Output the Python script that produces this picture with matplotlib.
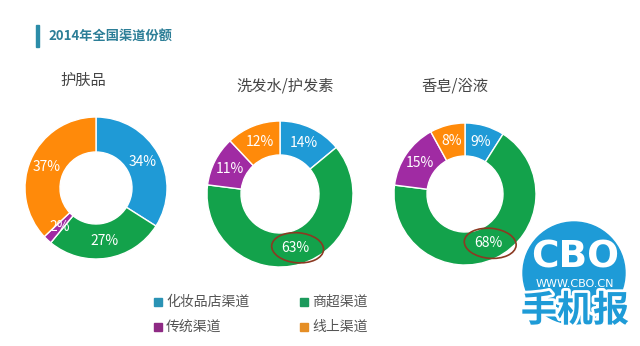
import matplotlib
matplotlib.use("Agg")
import matplotlib.pyplot as plt
import matplotlib.patheffects as pe
from matplotlib.patches import Circle, Ellipse, Rectangle
import numpy as np

plt.rcParams["font.family"] = ["Noto Sans CJK SC", "DejaVu Sans"]

title = "2014年全国渠道份额"
channels = ["化妆品店渠道", "商超渠道", "传统渠道", "线上渠道"]
categories = ["护肤品", "洗发水/护发素", "香皂/浴液"]
shares = [
    [34, 27, 2, 37],
    [14, 63, 11, 12],
    [9, 68, 15, 8],
]
highlight = [None, 1, 1]  # circled slice per donut

colors = ["#1F9AD6", "#13A24B", "#A02BA3", "#FF8A0A"]
legend_colors = ["#2A93B5", "#1C9A5C", "#8E2A84", "#E58E25"]
W, H = 640, 346

fig = plt.figure(figsize=(6.4, 3.46), dpi=100)
ax = fig.add_axes([0, 0, 1, 1])

# donut geometry (pixel coords, y from top)
centers = [(96, 188), (280, 194), (465, 194)]
radii = [71, 73, 71]
widths = [35, 34, 33]
title_pos = [(83, 80), (285, 86), (455, 86)]

for i, vals in enumerate(shares):
    cx, cy = centers[i]
    r = radii[i]
    wedges, _ = ax.pie(vals, colors=colors, startangle=90, counterclock=False,
                       radius=r, center=(cx, H - cy),
                       wedgeprops=dict(width=widths[i], edgecolor="white", linewidth=1))
    rm = r - widths[i] / 2
    for j, w in enumerate(wedges):
        ang = np.deg2rad((w.theta1 + w.theta2) / 2)
        x = cx + rm * np.cos(ang)
        y = H - cy + rm * np.sin(ang)
        ax.text(x, y, f"{vals[j]}%", color="white", fontsize=10,
                ha="center", va="center")
        if highlight[i] == j:
            ax.add_patch(Ellipse((x + 2, y), 52, 30, angle=-5, fill=False,
                                 edgecolor="#8B3A22", linewidth=1.2))
    ax.text(title_pos[i][0], H - title_pos[i][1], categories[i], fontsize=11,
            color="#444444", ha="center", va="center")

# header
ax.add_patch(Rectangle((36, H - 47), 3, 22, color="#2B8CA8"))
ax.text(48, H - 36, title, fontsize=9.5, fontweight="bold", color="#2C7E97",
        ha="left", va="center")

# legend
leg_xy = [(158, 302), (304, 302), (158, 327), (304, 327)]
for k, name in enumerate(channels):
    lx, ly = leg_xy[k]
    ax.add_patch(Rectangle((lx - 4, H - ly - 4), 8, 8, color=legend_colors[k]))
    ax.text(lx + 8, H - ly, name, fontsize=10, color="#555555",
            ha="left", va="center")

# CBO logo
ax.add_patch(Circle((574, H - 273), 51, color="#1E9BD7", zorder=3))
ax.text(575, H - 258, "CBO", fontsize=27, fontweight="heavy", color="white",
        family="DejaVu Sans", ha="center", va="center", zorder=4)
ax.text(575, H - 284, "WWW.CBO.CN", fontsize=8, color="white",
        family="DejaVu Sans", ha="center", va="center", zorder=4)
ax.text(575, H - 311, "手机报", fontsize=26, fontweight="bold", color="#1E9BD7",
        ha="center", va="center", zorder=5,
        path_effects=[pe.withStroke(linewidth=4, foreground="white")])

ax.set_xlim(0, W)
ax.set_ylim(0, H)
ax.set_aspect("equal")
ax.axis("off")

fig.savefig("out.png", dpi=100, facecolor="white")
